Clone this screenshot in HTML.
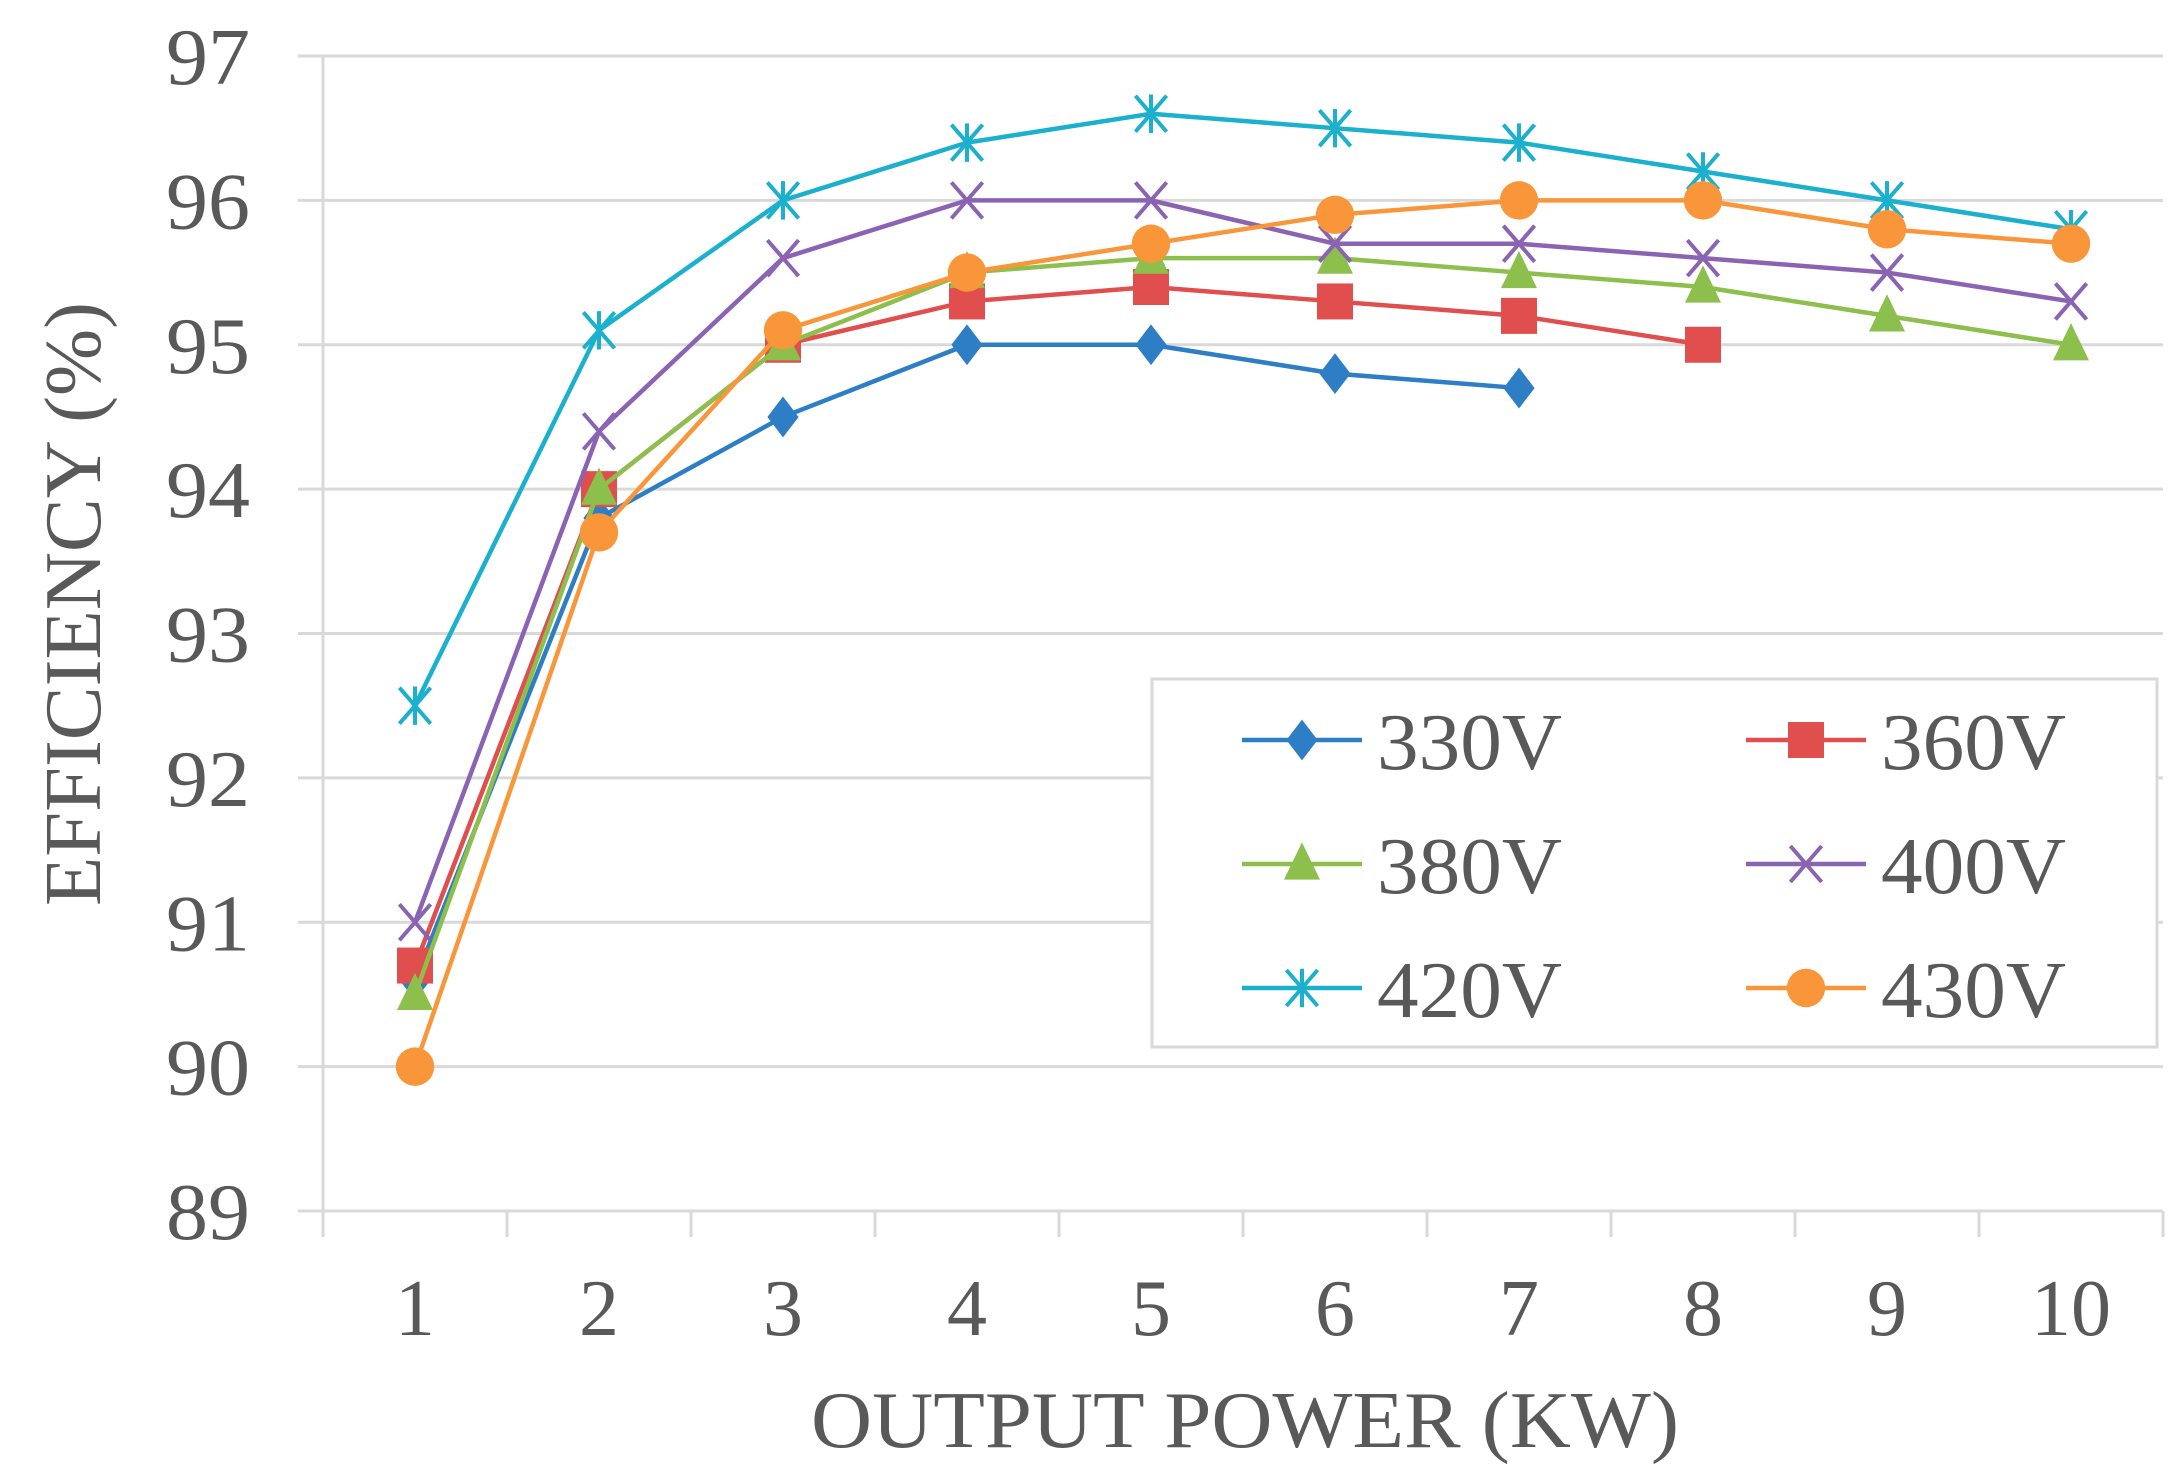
<!DOCTYPE html>
<html><head><meta charset="utf-8"><style>
html,body{margin:0;padding:0;background:#fff;}
svg{display:block;}
text{font-family:"Liberation Serif","Times New Roman",Times,serif;fill:#595959;}
</style></head><body>
<svg id="chart" width="2182" height="1467" viewBox="0 0 2182 1467" xmlns="http://www.w3.org/2000/svg">
<g id="grid"></g>
<g id="axes"></g>
<g id="series"></g>
<text x="0" y="0" font-size="80" text-anchor="middle" textLength="604" lengthAdjust="spacingAndGlyphs" transform="translate(100,604) rotate(-90)">EFFICIENCY (%)</text>
<text x="1245" y="1447" font-size="80" text-anchor="middle" textLength="868" lengthAdjust="spacingAndGlyphs">OUTPUT POWER (KW)</text>
<g id="legend"></g>
</svg>
<script>
const categories = [1,2,3,4,5,6,7,8,9,10];
const yTicks = [89,90,91,92,93,94,95,96,97];
const seriesNames = ["330V","360V","380V","400V","420V","430V"];
const s330 = [90.6,93.8,94.5,95.0,95.0,94.8,94.7];
const s360 = [90.7,94.0,95.0,95.3,95.4,95.3,95.2,95.0];
const s380 = [90.5,94.0,95.0,95.5,95.6,95.6,95.5,95.4,95.2,95.0];
const s400 = [91.0,94.4,95.6,96.0,96.0,95.7,95.7,95.6,95.5,95.3];
const s420 = [92.5,95.1,96.0,96.4,96.6,96.5,96.4,96.2,96.0,95.8];
const s430 = [90.0,93.7,95.1,95.5,95.7,95.9,96.0,96.0,95.8,95.7];

const NS="http://www.w3.org/2000/svg";
const X0=323, X1=2163, Y0=1211, Y1=56, YMIN=89, YMAX=97;
const cw=(X1-X0)/categories.length;
function xPos(i){return X0+cw*(i+0.5);}
function yPos(v){return Y0-(v-YMIN)/(YMAX-YMIN)*(Y0-Y1);}
function mk(tag,attrs,parent){const e=document.createElementNS(NS,tag);for(const k in attrs)e.setAttribute(k,attrs[k]);parent.appendChild(e);return e;}

const grid=document.getElementById('grid'), axes=document.getElementById('axes');
yTicks.forEach(v=>{
  const l=mk('line',{x1:298,x2:X1,y1:yPos(v),y2:yPos(v),stroke:'#d9d9d9','stroke-width':3},grid);
  
  
  const t=mk('text',{x:250,y:yPos(v)+28,'font-size':80,'text-anchor':'end',textLength:84,lengthAdjust:'spacingAndGlyphs'},axes);
  t.textContent=v;
  
  
});
const va=mk('line',{x1:X0,x2:X0,y1:Y1,y2:Y0+26,stroke:'#d9d9d9','stroke-width':3},axes);


for(let i=1;i<=categories.length;i++){
  const tk=mk('line',{x1:X0+cw*i,x2:X0+cw*i,y1:Y0,y2:Y0+26,stroke:'#d9d9d9','stroke-width':3},axes);
  
  
}
categories.forEach((c,i)=>{
  const t=mk('text',{x:xPos(i),y:1335,'font-size':80,'text-anchor':'middle'},axes);
  t.textContent=c;
  
  
});

const colors=["#2e7ec6","#e04e4e","#8dbf4c","#8a63b3","#1bb0cd","#f9963a"];
const markers=["diamond","square","triangle","x","star","circle"];
const allData=[s330,s360,s380,s400,s420,s430];

function marker(type,cx,cy,color,parent,scale){
  const s=scale||1.2;let e;
  if(type==="diamond"){e=mk('polygon',{points:`${cx},${cy-17*s} ${cx+13*s},${cy} ${cx},${cy+17*s} ${cx-13*s},${cy}`,fill:color},parent);}
  else if(type==="square"){e=mk('rect',{x:cx-15*s,y:cy-15*s,width:30*s,height:30*s,fill:color},parent);}
  else if(type==="triangle"){e=mk('polygon',{points:`${cx},${cy-18*s} ${cx+15*s},${cy+13*s} ${cx-15*s},${cy+13*s}`,fill:color},parent);}
  else if(type==="circle"){e=mk('circle',{cx:cx,cy:cy,r:16*s,fill:color},parent);}
  else if(type==="x"){e=mk('path',{d:`M${cx-13*s},${cy-15*s}L${cx+13*s},${cy+15*s}M${cx+13*s},${cy-15*s}L${cx-13*s},${cy+15*s}`,stroke:color,'stroke-width':4,fill:'none'},parent);}
  else {e=mk('path',{d:`M${cx-13*s},${cy-15*s}L${cx+13*s},${cy+15*s}M${cx+13*s},${cy-15*s}L${cx-13*s},${cy+15*s}M${cx},${cy-16*s}L${cx},${cy+16*s}`,stroke:color,'stroke-width':4,fill:'none'},parent);}
  return e;
}

const sg=document.getElementById('series');
allData.forEach((d,si)=>{
  const g=mk('g',{},sg);
  
  
  const pts=d.map((v,i)=>xPos(i)+','+yPos(v)).join(' ');
  const pl=mk('polyline',{points:pts,fill:'none',stroke:colors[si],'stroke-width':4.5,'stroke-linejoin':'round'},g);
  
  
  d.forEach((v,i)=>{
    const m=marker(markers[si],xPos(i),yPos(v),colors[si],g);
    
    
  });
});

const lg=document.getElementById('legend');
const box=mk('rect',{x:1152,y:679,width:1005,height:368,fill:'#fff',stroke:'#d9d9d9','stroke-width':3},lg);


const colX=[1242,1746], rowY=[740,864,988];
seriesNames.forEach((n,i)=>{
  const cx=colX[i%2], cy=rowY[Math.floor(i/2)];
  const g=mk('g',{},lg);
  
  
  mk('line',{x1:cx,x2:cx+120,y1:cy,y2:cy,stroke:colors[i],'stroke-width':4.5},g);
  marker(markers[i],cx+60,cy,colors[i],g);
  const t=mk('text',{x:cx+135,y:cy+29,'font-size':80,textLength:185,lengthAdjust:'spacingAndGlyphs'},g);
  t.textContent=n;
});
</script>
</body></html>
